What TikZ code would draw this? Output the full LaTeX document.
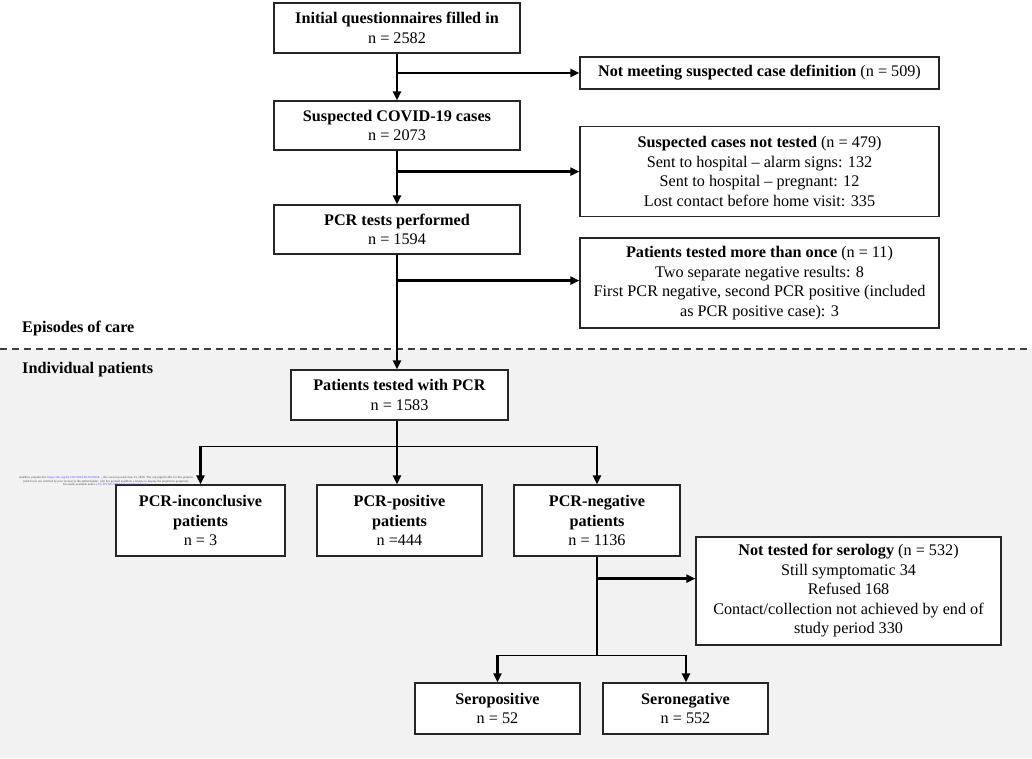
\documentclass[tikz,border=0pt]{standalone}
\usepackage{fontspec}
\setmainfont{Liberation Serif}
\usetikzlibrary{arrows.meta,calc}
\begin{document}
\begin{tikzpicture}[x=1pt,y=-1pt,
  box/.style={draw=black!85,line width=1.3pt,fill=white,align=center,inner sep=0pt,
    font=\fontsize{16.2}{19.5}\selectfont},
  conn/.style={line width=2.4pt,line cap=butt},
  thin/.style={line width=1.5pt},
  arr/.style={-{Triangle[length=9pt,width=8pt]}},
  lbl/.style={font=\fontsize{16.2}{19}\selectfont\bfseries,anchor=base west,inner sep=0pt}]
\useasboundingbox (0,0) rectangle (1032,758);
\fill[white] (0,0) rectangle (1032,349);
\fill[black!5] (0,349) rectangle (1032,758);
\draw[black!75,line width=1.4pt,dash pattern=on 7pt off 5pt] (0,349) -- (1032,349);
\node[lbl] (ep) at (22,332) {Episodes of care};
\node[lbl] (ip) at (22,373) {Individual patients};

\node[box,minimum width=246,minimum height=50] (b1) at (397,28) {\textbf{Initial questionnaires filled in}\\n = 2582};
\node[box,minimum width=359,minimum height=32] (r1) at (759.5,73) {\textbf{Not meeting suspected case definition} (n = 509)};
\node[box,minimum width=246,minimum height=49] (b2) at (397,125.5) {\textbf{Suspected COVID-19 cases}\\n = 2073};
\node[box,minimum width=359,minimum height=90] (r2) at (759.5,171.5) {\textbf{Suspected cases not tested} (n = 479)\\Sent to hospital -- alarm signs: 132\\Sent to hospital -- pregnant: 12\\Lost contact before home visit: 335};
\node[box,minimum width=246,minimum height=49] (b3) at (397,229.5) {\textbf{PCR tests performed}\\n = 1594};
\node[box,minimum width=359,minimum height=90] (r3) at (759.5,283) {\textbf{Patients tested more than once} (n = 11)\\Two separate negative results: 8\\First PCR negative, second PCR positive (included\\as PCR positive case): 3};
\node[box,minimum width=217,minimum height=50] (b4) at (399.5,395) {\textbf{Patients tested with PCR}\\n = 1583};
\node[box,minimum width=169,minimum height=71] (b5) at (200.5,520.5) {\textbf{PCR-inconclusive}\\\textbf{patients}\\n = 3};
\node[box,minimum width=165,minimum height=71] (b6) at (399.5,520.5) {\textbf{PCR-positive}\\\textbf{patients}\\n =444};
\node[box,minimum width=166,minimum height=71] (b7) at (597,520.5) {\textbf{PCR-negative}\\\textbf{patients}\\n = 1136};
\node[box,minimum width=305,minimum height=108] (r4) at (848.5,591) {\textbf{Not tested for serology} (n = 532)\\Still symptomatic 34\\Refused 168\\Contact/collection not achieved by end of\\study period 330};
\node[box,minimum width=165,minimum height=51] (b8) at (497.5,708.5) {\textbf{Seropositive}\\n = 52};
\node[box,minimum width=165,minimum height=51] (b9) at (685.5,708.5) {\textbf{Seronegative}\\n = 552};

\node[inner sep=0pt,align=center,font=\fontsize{3.1}{3.8}\selectfont,text=black!70] (wm) at (106,481)
  {medRxiv preprint doi: \textcolor{blue!70}{https://doi.org/10.1101/2020.06.20.20134...}; this version posted June 23, 2020. The copyright holder for this preprint\\
  (which was not certified by peer review) is the author/funder, who has granted medRxiv a license to display the preprint in perpetuity.\\
  It is made available under a \textcolor{blue!70}{CC-BY-NC-ND 4.0 International license}.};

% top trunk
\coordinate (t1) at (b1.south);
\draw[conn,arr] (t1) -- (t1 |- b2.north);
\coordinate (j1) at (t1 |- r1.west);
\draw[conn,arr] (j1) -- (r1.west);
\coordinate (t2) at (b2.south);
\draw[conn,arr] (t2) -- (t2 |- b3.north);
\coordinate (j2) at ($(t2)+(0,21)$);
\draw[conn,arr] (j2) -- (j2 -| r2.west);
\coordinate (t3) at (b3.south);
\draw[conn,arr] (t3) -- (t3 |- b4.north);
\coordinate (j3) at ($(t3)+(0,26)$);
\draw[conn,arr] (j3) -- (j3 -| r3.west);

% split after b4
\coordinate (s0) at (b4.south -| t3);
\coordinate (s1) at ($(s0)+(0,26)$);
\draw[conn] (s0) -- (s1);
\coordinate (sl) at (b5.north |- s1);
\coordinate (sr) at (b7.north |- s1);
\draw[thin] ($(sl)+(-1.2,0)$) -- ($(sr)+(1.2,0)$);
\draw[conn,arr] ($(sl)+(0,-0.7)$) -- (b5.north);
\draw[conn,arr] (s1) -- (s1 |- b6.north);
\draw[conn,arr] ($(sr)+(0,-0.7)$) -- (b7.north);

% lower split
\coordinate (k0) at (b7.south);
\coordinate (k1) at ($(k0)+(0,22)$);
\coordinate (k2) at ($(k0)+(0,99)$);
\draw[thin] (k0) -- (k2);
\draw[conn,arr] (k1) -- (k1 -| r4.west);
\coordinate (kl) at (b8.north |- k2);
\coordinate (kr) at ($(b9.north |- k2)+(0.5,0)$);
\draw[thin] ($(kl)+(-1.2,0)$) -- ($(kr)+(1.2,0)$);
\draw[conn,arr] ($(kl)+(0,-0.7)$) -- (b8.north);
\draw[conn,arr] ($(kr)+(0,-0.7)$) -- (kr |- b9.north);
\end{tikzpicture}
\end{document}
